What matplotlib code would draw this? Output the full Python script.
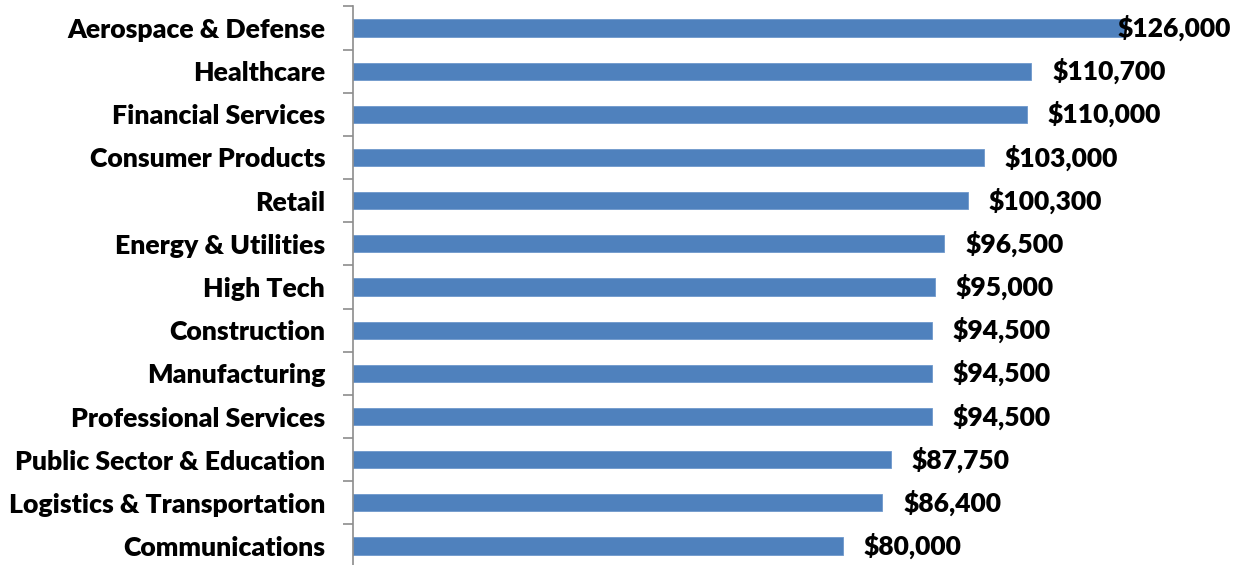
import matplotlib
matplotlib.use("Agg")
import matplotlib.pyplot as plt
from matplotlib.ticker import FixedLocator

industries = [
    "Aerospace & Defense", "Healthcare", "Financial Services", "Consumer Products",
    "Retail", "Energy & Utilities", "High Tech", "Construction", "Manufacturing",
    "Professional Services", "Public Sector & Education",
    "Logistics & Transportation", "Communications",
]
salaries = [126000, 110700, 110000, 103000, 100300, 96500, 95000,
            94500, 94500, 94500, 87750, 86400, 80000]

plt.rcParams["font.family"] = ["Lato", "DejaVu Sans"]

fig = plt.figure(figsize=(12.39, 5.65), dpi=100)
ax = fig.add_axes([353 / 1239, -2.6 / 565, 857.8 / 1239, 561.2 / 565])

pos = list(range(len(industries)))
ax.barh(pos, salaries, height=0.4, color="#4f81bd", edgecolor="#6e98cc", linewidth=0.6)
ax.set_xlim(0, 140000)
ax.set_ylim(len(industries) - 0.5, -0.5)

ax.set_yticks(pos)
ax.set_yticklabels(industries, fontsize=19.2, fontweight="heavy")
ax.yaxis.set_minor_locator(FixedLocator([p - 0.5 for p in pos] + [len(pos) - 0.5]))
ax.tick_params(axis="y", which="major", length=0, pad=20)
ax.tick_params(axis="y", which="minor", length=7, width=1.2, color="#8c8c8c", direction="out")
ax.set_xticks([])

for side in ("top", "right", "bottom"):
    ax.spines[side].set_visible(False)
ax.spines["left"].set_color("#8c8c8c")
ax.spines["left"].set_linewidth(1.2)

labels = []
for p, v in zip(pos, salaries):
    t = ax.annotate(f"${v:,}", xy=(v, p), xytext=(15, 0), textcoords="offset points",
                    ha="left", va="center", fontsize=19, fontweight="heavy",
                    annotation_clip=False)
    labels.append(t)

# keep value labels inside the canvas
fig.canvas.draw()
renderer = fig.canvas.get_renderer()
for t in labels:
    bb = t.get_window_extent(renderer)
    limit = fig.bbox.width - 8
    if bb.x1 > limit:
        dx = (bb.x1 - limit) * 72 / fig.dpi
        x0, y0 = t.xyann
        t.xyann = (x0 - dx, y0)

fig.savefig("out.png", dpi=100)
